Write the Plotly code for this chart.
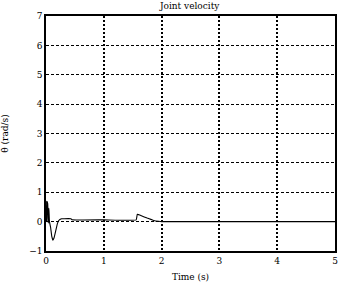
import plotly.graph_objects as go

time_s = [0.0, 0.01, 0.015, 0.02, 0.03, 0.04, 0.05, 0.06, 0.08, 0.1, 0.12, 0.14, 0.17, 0.2, 0.23, 0.27, 0.3, 0.43, 0.45, 1.0, 1.56, 1.58, 1.65, 1.75, 1.85, 1.95, 2.0, 5.0]
velocity = [0.0, 0.7, 0.0, 0.68, 0.6, -0.05, 0.45, 0.0, -0.2, -0.5, -0.63, -0.55, -0.3, -0.05, 0.06, 0.1, 0.1, 0.1, 0.06, 0.06, 0.06, 0.25, 0.2, 0.12, 0.05, 0.01, 0.0, 0.0]

x_ticks = [0, 1, 2, 3, 4, 5]
y_ticks = [-1, 0, 1, 2, 3, 4, 5, 6, 7]

font = "DejaVu Serif"
fig = go.Figure()
fig.add_trace(go.Scatter(x=time_s, y=velocity, mode="lines", line_shape="spline",
                         line=dict(color="black", width=1.1, smoothing=0.3), showlegend=False))

fig.update_layout(
    width=343, height=282,
    margin=dict(l=46, r=8, t=16, b=31),
    paper_bgcolor="white", plot_bgcolor="white",
    font=dict(family=font, size=9, color="black"),
    title=dict(text="Joint velocity", x=0.553, xanchor="center", y=0.99, yanchor="top",
               font=dict(family=font, size=9)),
    xaxis=dict(range=[0, 5], tickvals=x_ticks, showgrid=True, gridcolor="black",
               griddash="2px,2px", gridwidth=1.6, zeroline=False, showline=True,
               linecolor="black", linewidth=1.5, mirror=True, ticks="", automargin=False,
               title=dict(text="Time (s)", font=dict(family=font, size=9), standoff=10),
               tickfont=dict(family=font, size=9)),
    yaxis=dict(range=[-1, 7], tickvals=y_ticks, showgrid=True, gridcolor="black",
               griddash="3px,2px", gridwidth=1.2, zeroline=False, showline=True,
               linecolor="black", linewidth=1.5, mirror=True, ticks="", automargin=False,
               title=dict(text="θ̇ (rad/s)", font=dict(family=font, size=9), standoff=19),
               tickfont=dict(family=font, size=9)),
)

fig.write_html("out.html")
